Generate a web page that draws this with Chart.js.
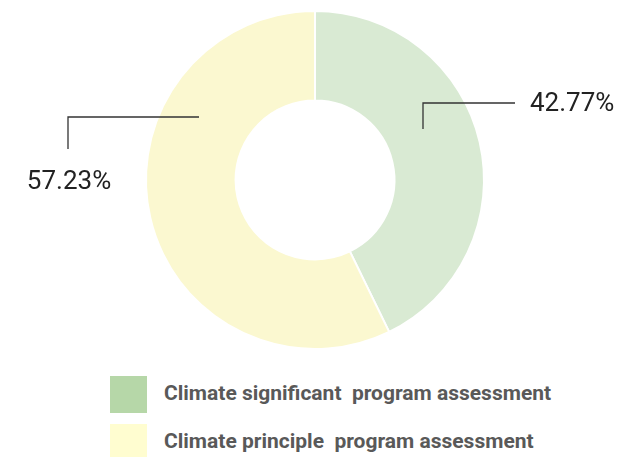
<!DOCTYPE html>
<html>
<head>
<meta charset="utf-8">
<script src="https://cdn.jsdelivr.net/npm/chart.js@4.4.0/dist/chart.umd.min.js"></script>
<style>
  html, body { margin: 0; padding: 0; background: #fff; }
  body { width: 619px; height: 457px; position: relative; overflow: hidden; font-family: Roboto, sans-serif; }
  #wrap { position: absolute; left: 0; top: 0; width: 619px; height: 360px; }
  #legend { position: absolute; left: 110px; top: 376px; }
  .item { display: flex; align-items: center; height: 37px; margin-bottom: 11px; }
  .box { width: 37px; height: 37px; margin-right: 17px; }
  .txt { font-weight: 700; font-size: 21px; color: #595959; white-space: pre; position: relative; top: -2px; }
</style>
</head>
<body>
<div id="wrap"><canvas id="grafico"></canvas></div>
<div id="legend"></div>
<script>
// dados do gráfico
const categorias = ['Climate significant  program assessment', 'Climate principle  program assessment']
const valores = [42.77, 57.23]
const coresFatia = ['#d9ead3', '#fbf8d0']
const coresLegenda = ['#b6d7a8', '#fffdd0']

// legenda feita à mão, com as cores mais fortes nos quadrados
const legenda = document.getElementById('legend')
categorias.forEach(function (nome, i) {
  const linha = document.createElement('div')
  linha.className = 'item'
  const caixa = document.createElement('div')
  caixa.className = 'box'
  caixa.style.background = coresLegenda[i]
  const texto = document.createElement('span')
  texto.className = 'txt'
  texto.textContent = nome
  linha.appendChild(caixa)
  linha.appendChild(texto)
  legenda.appendChild(linha)
})

// linhas de chamada com o percentual de cada fatia
// (pontos relativos ao centro do anel)
const chamadas = [
  { pts: [[108, -51], [108, -77], [200, -77]], texto: [215, -76], align: 'left', base: 'middle' },
  { pts: [[-247, -31], [-247, -63], [-116, -63]], texto: [-246, 9], align: 'center', base: 'alphabetic' }
]

const rotulos = {
  id: 'rotulos',
  afterDatasetsDraw(chart) {
    const ctx = chart.ctx
    const arcos = chart.getDatasetMeta(0).data
    ctx.save()
    arcos.forEach(function (arco, i) {
      const c = chamadas[i]
      const cx = arco.x, cy = arco.y
      ctx.strokeStyle = '#333'
      ctx.lineWidth = 1.3
      ctx.beginPath()
      c.pts.forEach(function (p, k) {
        if (k === 0) ctx.moveTo(cx + p[0], cy + p[1])
        else ctx.lineTo(cx + p[0], cy + p[1])
      })
      ctx.stroke()
      ctx.fillStyle = '#222'
      ctx.font = '26px Roboto'
      ctx.textAlign = c.align
      ctx.textBaseline = c.base
      ctx.fillText(valores[i].toFixed(2) + '%', cx + c.texto[0], cy + c.texto[1])
    })
    ctx.restore()
  }
}

new Chart(document.getElementById('grafico'), {
  type: 'doughnut',
  data: {
    labels: categorias,
    datasets: [{
      data: valores,
      backgroundColor: coresFatia,
      borderColor: '#ffffff',
      borderWidth: 2
    }]
  },
  options: {
    responsive: true,
    maintainAspectRatio: false,
    animation: false,
    events: [],
    cutout: '47%',
    layout: { padding: { left: 11, right: 0, top: 10, bottom: 10 } },
    plugins: {
      legend: { display: false },
      tooltip: { enabled: false }
    }
  },
  plugins: [rotulos]
})
</script>
</body>
</html>
